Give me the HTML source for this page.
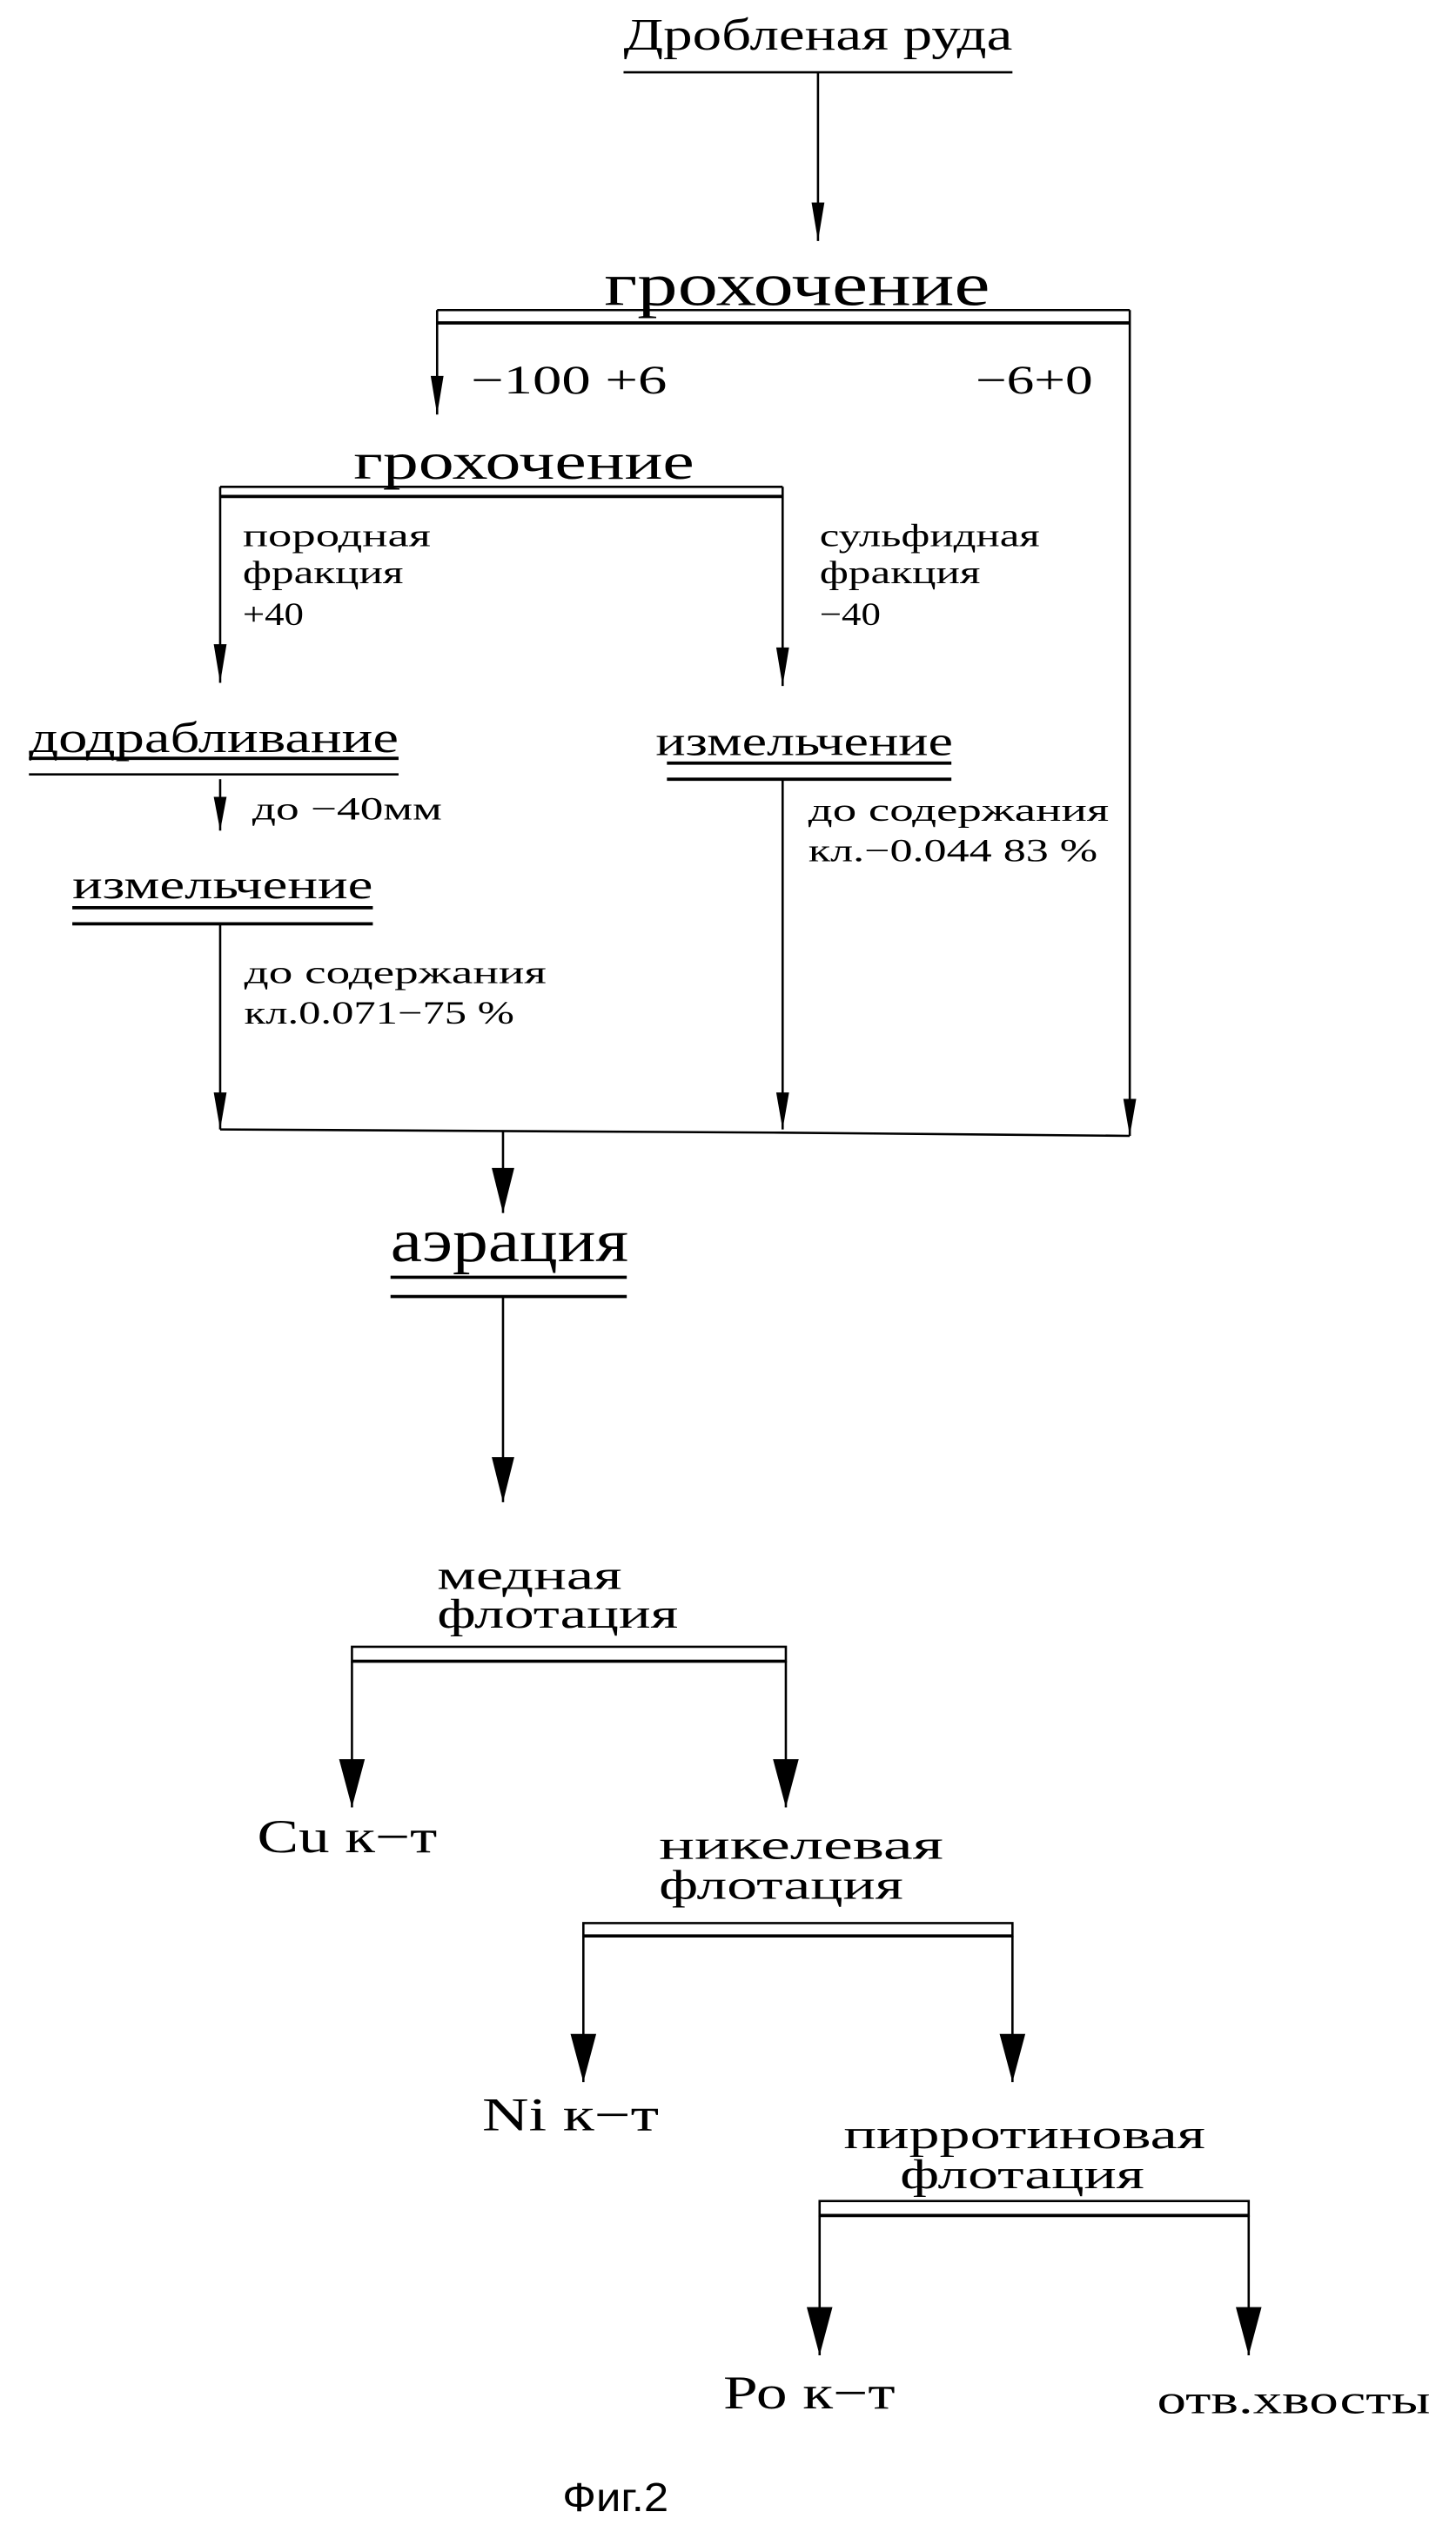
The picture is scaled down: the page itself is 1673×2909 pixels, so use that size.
<!DOCTYPE html>
<html><head><meta charset="utf-8">
<style>
html,body{margin:0;padding:0;background:#fff;}
svg{display:block;}
text{font-family:"Liberation Serif","DejaVu Serif",serif;fill:#000;}
.s{font-family:"Liberation Sans",sans-serif;}
</style></head>
<body>
<svg width="1673" height="2909" viewBox="0 0 906 1576" preserveAspectRatio="none" xmlns="http://www.w3.org/2000/svg">
<defs>
<marker id="a" viewBox="0 0 10 30" refX="5" refY="30" markerWidth="10" markerHeight="30" markerUnits="userSpaceOnUse" orient="auto-start-reverse"></marker>
</defs>
<g stroke="#000" fill="none" stroke-width="1.4">
<!-- top -->
<line x1="388" y1="45" x2="630" y2="45"/>
<line x1="509" y1="45" x2="509" y2="150"/>
<!-- grohochenie 1 box -->
<line x1="272" y1="193" x2="703" y2="193"/>
<line x1="272" y1="201" x2="703" y2="201" stroke-width="2"/>
<line x1="272" y1="193" x2="272" y2="258"/>
<line x1="703" y1="193" x2="703" y2="707"/>
<!-- grohochenie 2 box -->
<line x1="137" y1="303" x2="487" y2="303"/>
<line x1="137" y1="309" x2="487" y2="309" stroke-width="2"/>
<line x1="137" y1="303" x2="137" y2="425"/>
<line x1="487" y1="303" x2="487" y2="427"/>
<!-- dodrablivanie -->
<line x1="18" y1="472" x2="248" y2="472" stroke-width="2"/>
<line x1="18" y1="482" x2="248" y2="482"/>
<line x1="137" y1="485" x2="137" y2="517"/>
<!-- izmelchenie left -->
<line x1="45" y1="565" x2="232" y2="565" stroke-width="2"/>
<line x1="45" y1="575" x2="232" y2="575" stroke-width="2"/>
<line x1="137" y1="575" x2="137" y2="703"/>
<!-- izmelchenie right -->
<line x1="415" y1="475" x2="592" y2="475" stroke-width="2"/>
<line x1="415" y1="485" x2="592" y2="485" stroke-width="2"/>
<line x1="487" y1="485" x2="487" y2="703"/>
<!-- collector -->
<polyline points="137,703 487,705 703,707"/>
<line x1="313" y1="704" x2="313" y2="755"/>
<!-- aeration -->
<line x1="243" y1="795" x2="390" y2="795" stroke-width="2"/>
<line x1="243" y1="807" x2="390" y2="807" stroke-width="2"/>
<line x1="313" y1="807" x2="313" y2="935"/>
<!-- copper flotation -->
<rect x="219" y="1025" width="270" height="9"/>
<line x1="219" y1="1034" x2="489" y2="1034" stroke-width="2"/>
<line x1="219" y1="1034" x2="219" y2="1125"/>
<line x1="489" y1="1034" x2="489" y2="1125"/>
<!-- nickel -->
<rect x="363" y="1197" width="267" height="8"/>
<line x1="363" y1="1205" x2="630" y2="1205" stroke-width="2"/>
<line x1="363" y1="1205" x2="363" y2="1296"/>
<line x1="630" y1="1205" x2="630" y2="1296"/>
<!-- pyrrhotite -->
<rect x="510" y="1370" width="267" height="9"/>
<line x1="510" y1="1379" x2="777" y2="1379" stroke-width="2"/>
<line x1="510" y1="1379" x2="510" y2="1466"/>
<line x1="777" y1="1379" x2="777" y2="1466"/>
</g>
<g fill="#000">
<!-- small arrows -->
<polygon points="505,126 513,126 509,150"/>
<polygon points="268,234 276,234 272,258"/>
<polygon points="133,401 141,401 137,425"/>
<polygon points="483,403 491,403 487,427"/>
<polygon points="133,496 141,496 137,517"/>
<polygon points="133,680 141,680 137,703"/>
<polygon points="483,680 491,680 487,703"/>
<polygon points="699,684 707,684 703,707"/>
<!-- big arrows -->
<polygon points="306,727 320,727 313,755"/>
<polygon points="306,907 320,907 313,935"/>
<polygon points="211,1095 227,1095 219,1125"/>
<polygon points="481,1095 497,1095 489,1125"/>
<polygon points="355,1266 371,1266 363,1296"/>
<polygon points="622,1266 638,1266 630,1296"/>
<polygon points="502,1436 518,1436 510,1466"/>
<polygon points="769,1436 785,1436 777,1466"/>
</g>
<text x="388" y="31" font-size="28" textLength="242" lengthAdjust="spacingAndGlyphs">Дробленая руда</text>
<text x="376" y="190" font-size="38" textLength="240" lengthAdjust="spacingAndGlyphs">грохочение</text>
<text x="293" y="245" font-size="25" textLength="122" lengthAdjust="spacingAndGlyphs">−100 +6</text>
<text x="607" y="245" font-size="25" textLength="73" lengthAdjust="spacingAndGlyphs">−6+0</text>
<text x="220" y="298" font-size="32" textLength="212" lengthAdjust="spacingAndGlyphs">грохочение</text>
<text x="151" y="340" font-size="20" textLength="117" lengthAdjust="spacingAndGlyphs">породная</text>
<text x="151" y="363" font-size="20" textLength="100" lengthAdjust="spacingAndGlyphs">фракция</text>
<text x="151" y="389" font-size="20" textLength="38" lengthAdjust="spacingAndGlyphs">+40</text>
<text x="510" y="340" font-size="20" textLength="137" lengthAdjust="spacingAndGlyphs">сульфидная</text>
<text x="510" y="363" font-size="20" textLength="100" lengthAdjust="spacingAndGlyphs">фракция</text>
<text x="510" y="389" font-size="20" textLength="38" lengthAdjust="spacingAndGlyphs">−40</text>
<text x="18" y="468" font-size="27" textLength="230" lengthAdjust="spacingAndGlyphs">додрабливание</text>
<text x="157" y="510" font-size="20" textLength="118" lengthAdjust="spacingAndGlyphs">до −40мм</text>
<text x="45" y="559" font-size="25" textLength="187" lengthAdjust="spacingAndGlyphs">измельчение</text>
<text x="152" y="612" font-size="20" textLength="188" lengthAdjust="spacingAndGlyphs">до содержания</text>
<text x="152" y="637" font-size="20" textLength="168" lengthAdjust="spacingAndGlyphs">кл.0.071−75 %</text>
<text x="408" y="470" font-size="26" textLength="185" lengthAdjust="spacingAndGlyphs">измельчение</text>
<text x="503" y="511" font-size="20" textLength="187" lengthAdjust="spacingAndGlyphs">до содержания</text>
<text x="503" y="536" font-size="20" textLength="180" lengthAdjust="spacingAndGlyphs">кл.−0.044 83 %</text>
<text x="243" y="785" font-size="38" textLength="148" lengthAdjust="spacingAndGlyphs">аэрация</text>
<text x="272" y="989" font-size="26" textLength="115" lengthAdjust="spacingAndGlyphs">медная</text>
<text x="272" y="1013" font-size="26" textLength="150" lengthAdjust="spacingAndGlyphs">флотация</text>
<text x="160" y="1153" font-size="29" textLength="112" lengthAdjust="spacingAndGlyphs">Cu к−т</text>
<text x="410" y="1157" font-size="26" textLength="177" lengthAdjust="spacingAndGlyphs">никелевая</text>
<text x="410" y="1182" font-size="26" textLength="152" lengthAdjust="spacingAndGlyphs">флотация</text>
<text x="300" y="1326" font-size="29" textLength="110" lengthAdjust="spacingAndGlyphs">Ni к−т</text>
<text x="525" y="1337" font-size="26" textLength="225" lengthAdjust="spacingAndGlyphs">пирротиновая</text>
<text x="560" y="1362" font-size="26" textLength="152" lengthAdjust="spacingAndGlyphs">флотация</text>
<text x="450" y="1499" font-size="29" textLength="107" lengthAdjust="spacingAndGlyphs">Ро к−т</text>
<text x="720" y="1502" font-size="25" textLength="170" lengthAdjust="spacingAndGlyphs">отв.хвосты</text>
<text class="s" x="350" y="1563" font-size="25" textLength="66" lengthAdjust="spacingAndGlyphs">Фиг.2</text>
</svg>
</body></html>
